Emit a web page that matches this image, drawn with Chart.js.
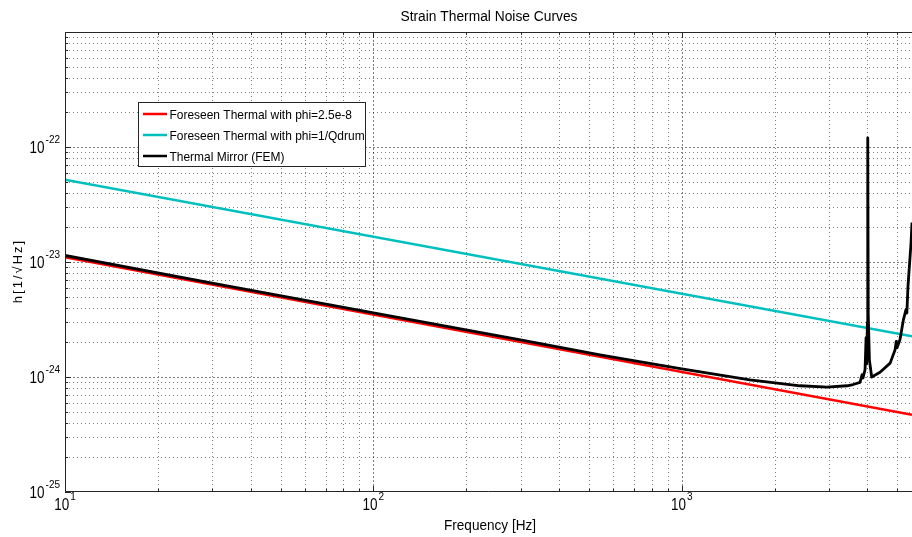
<!DOCTYPE html>
<html lang="en">
<head>
<meta charset="UTF-8">
<title>Strain Thermal Noise Curves</title>
<script src="https://cdn.jsdelivr.net/npm/chart.js"></script>
<style>
  html, body { margin: 0; padding: 0; background: #fff; }
  canvas { display: block; }
</style>
</head>
<body>
<canvas id="noiseChart" width="912" height="537"></canvas>
<script>
// axis ranges
const freqRange = [10, 5580];        // Hz
const strainRange = [1e-25, 1e-21];  // 1/sqrt(Hz)

// foreseen thermal noise, two loss angles
const foreseenFreq = [10, 5580];
const foreseenPhi = [1.10e-23, 4.7e-25];    // phi = 2.5e-8
const foreseenQdrum = [5.2e-23, 2.26e-24];  // phi = 1/Qdrum

// thermal mirror noise from the FEM model
const mirrorFreq = [10, 30, 100, 300, 543, 1000, 1663, 2420, 2960, 3436, 3593, 3785,
  3845, 3870, 3930, 3960, 3975, 4000, 4010, 4025, 4060, 4130, 4395, 4740, 4920,
  4960, 4990, 5100, 5235, 5335, 5370, 5415, 5540, 5580];
const mirrorFem = [1.14e-23, 6.55e-24, 3.61e-24, 2.10e-24, 1.56e-24, 1.175e-24, 9.44e-25,
  8.39e-25, 8.18e-25, 8.39e-25, 8.6e-25, 8.97e-25,
  1.05e-24, 9.8e-25, 1.16e-24, 2.2e-24, 1.3e-24, 3.0e-24, 1.2e-22, 3.5e-24, 1.4e-24,
  1.0e-24, 1.10e-24, 1.32e-24, 1.73e-24,
  2.04e-24, 1.8e-24, 2.11e-24, 3.16e-24, 3.85e-24, 3.6e-24, 6.14e-24, 1.47e-23, 2.2e-23];

// tick labels (10^n)
const xDecades = [10, 100, 1000];
const xExponents = ['1', '2', '3'];
const yDecades = [1e-25, 1e-24, 1e-23, 1e-22, 1e-21];
const yExponents = ['-25', '-24', '-23', '-22', ''];
const minorSteps = [1, 2, 3, 4, 5, 6, 7, 8, 9];

const legendLabels = [
  'Foreseen Thermal with phi=2.5e-8',
  'Foreseen Thermal with phi=1/Qdrum',
  'Thermal Mirror (FEM)'
];
const legendColors = ['#ff0000', '#00bfbf', '#000000'];

const FONT = '"Liberation Sans", Arial, Helvetica, sans-serif';

function toPoints(xs, ys) {
  return xs.map((f, i) => ({ x: f, y: ys[i] }));
}

function decadeTicks(decades, max) {
  const ticks = [];
  decades.forEach(d => minorSteps.forEach(m => {
    const v = d * m;
    if (v <= max * 1.0000001) ticks.push({ value: v, major: m === 1 });
  }));
  return ticks;
}

function drawPower(ctx, exp, x, y, anchor) {
  ctx.font = '16px ' + FONT;
  const baseW = Math.min(ctx.measureText('10').width, 15);
  ctx.font = '10px ' + FONT;
  const expW = ctx.measureText(exp).width;
  const total = baseW + 1 + expW;
  const left = anchor === 'right' ? x - total : x - total / 2;
  ctx.textAlign = 'left';
  ctx.textBaseline = 'alphabetic';
  ctx.font = '16px ' + FONT;
  ctx.fillText('10', left, y, baseW);
  ctx.font = '10px ' + FONT;
  ctx.fillText(exp, left + baseW + 1, y - 10);
}

const plotFrame = {
  id: 'plotFrame',
  beforeDraw(chart) {
    const { ctx, chartArea: a, scales: { x, y } } = chart;
    ctx.save();
    ctx.fillStyle = '#fff';
    ctx.fillRect(0, 0, chart.width, chart.height);
    ctx.lineWidth = 1;
    ctx.strokeStyle = 'rgba(0,0,0,0.5)';
    x.ticks.forEach(t => {
      const px = Math.round(x.getPixelForValue(t.value)) + 0.5;
      if (px < a.left + 1 || px > a.right - 1) return;
      ctx.setLineDash(t.major ? [2, 2] : [1, 3]);
      ctx.beginPath(); ctx.moveTo(px, a.top); ctx.lineTo(px, a.bottom); ctx.stroke();
    });
    y.ticks.forEach(t => {
      const py = Math.round(y.getPixelForValue(t.value)) + 0.5;
      if (py < a.top + 1 || py > a.bottom - 1) return;
      ctx.setLineDash(t.major ? [2, 2] : [1, 3]);
      ctx.beginPath(); ctx.moveTo(a.left, py); ctx.lineTo(a.right, py); ctx.stroke();
    });
    ctx.restore();
  },
  afterDraw(chart) {
    const { ctx, chartArea: a, scales: { x, y } } = chart;
    ctx.save();
    ctx.setLineDash([]);
    ctx.strokeStyle = '#262626';
    ctx.lineWidth = 1;

    // box: left, bottom, top
    ctx.beginPath();
    ctx.moveTo(a.right, a.top + 0.5); ctx.lineTo(a.left + 0.5, a.top + 0.5);
    ctx.lineTo(a.left + 0.5, a.bottom - 0.5); ctx.lineTo(a.right, a.bottom - 0.5);
    ctx.stroke();

    // tick marks pointing inward
    ctx.beginPath();
    x.ticks.forEach(t => {
      const px = Math.round(x.getPixelForValue(t.value)) + 0.5;
      const len = t.major ? 6 : 3;
      ctx.moveTo(px, a.bottom); ctx.lineTo(px, a.bottom - len);
      ctx.moveTo(px, a.top); ctx.lineTo(px, a.top + len);
    });
    y.ticks.forEach(t => {
      const py = Math.round(y.getPixelForValue(t.value)) + 0.5;
      const len = t.major ? 6 : 3;
      ctx.moveTo(a.left, py); ctx.lineTo(a.left + len, py);
    });
    ctx.stroke();

    // tick labels
    ctx.fillStyle = '#000';
    xDecades.forEach((d, i) => drawPower(ctx, xExponents[i], x.getPixelForValue(d), a.bottom + 18, 'center'));
    yDecades.forEach((d, i) => {
      if (!yExponents[i]) return;
      drawPower(ctx, yExponents[i], a.left - 5, y.getPixelForValue(d) + 6, 'right');
    });

    // title and axis titles
    ctx.textAlign = 'center';
    ctx.textBaseline = 'alphabetic';
    ctx.font = '14px ' + FONT;
    ctx.fillText('Strain Thermal Noise Curves', 489, 21, 177);
    ctx.fillText('Frequency [Hz]', 490, 530, 92);
    ctx.save();
    ctx.translate(22, 271);
    ctx.rotate(-Math.PI / 2);
    ctx.font = '13px ' + FONT;
    ctx.letterSpacing = '2px';
    ctx.fillText('h[1/\u221AHz]', 0, 0);
    ctx.restore();

    // legend
    const lx = 138.5, ly = 102.5, lw = 227, lh = 64;
    ctx.fillStyle = '#fff';
    ctx.fillRect(lx, ly, lw, lh);
    ctx.strokeStyle = '#262626';
    ctx.strokeRect(lx, ly, lw, lh);
    ctx.beginPath();
    ctx.rect(lx, ly, lw - 1, lh);
    ctx.clip();
    legendLabels.forEach((label, i) => {
      const ry = 114 + i * 21;
      ctx.strokeStyle = legendColors[i];
      ctx.lineWidth = 2.5;
      ctx.beginPath(); ctx.moveTo(143, ry); ctx.lineTo(167, ry); ctx.stroke();
      ctx.save();
      ctx.fillStyle = '#000';
      ctx.font = '13px ' + FONT;
      ctx.textAlign = 'left';
      ctx.textBaseline = 'middle';
      ctx.translate(169.5, ry + 1);
      ctx.scale(0.92, 1);
      ctx.fillText(label, 0, 0);
      ctx.restore();
    });
    ctx.restore();
  }
};

const ctx = document.getElementById('noiseChart').getContext('2d');
new Chart(ctx, {
  type: 'line',
  data: {
    datasets: [
      { label: legendLabels[2], data: toPoints(mirrorFreq, mirrorFem), borderColor: legendColors[2], borderWidth: 2.8, order: 0 },
      { label: legendLabels[1], data: toPoints(foreseenFreq, foreseenQdrum), borderColor: legendColors[1], order: 1 },
      { label: legendLabels[0], data: toPoints(foreseenFreq, foreseenPhi), borderColor: legendColors[0], order: 2 }
    ]
  },
  options: {
    responsive: false,
    animation: false,
    devicePixelRatio: 1,
    layout: { padding: { top: 32, right: 0, left: 0, bottom: 0 } },
    elements: {
      line: { borderWidth: 2.5, tension: 0, borderJoinStyle: 'round', fill: false },
      point: { radius: 0, hoverRadius: 0 }
    },
    plugins: {
      legend: { display: false },
      title: { display: false },
      tooltip: { enabled: false }
    },
    scales: {
      x: {
        type: 'logarithmic',
        min: freqRange[0],
        max: freqRange[1],
        afterBuildTicks: s => { s.ticks = decadeTicks(xDecades, freqRange[1]); },
        afterFit: s => { s.height = 45; },
        ticks: { display: false, autoSkip: false },
        grid: { display: false },
        border: { display: false }
      },
      y: {
        type: 'logarithmic',
        min: strainRange[0],
        max: strainRange[1],
        afterBuildTicks: s => { s.ticks = decadeTicks(yDecades, strainRange[1]); },
        afterFit: s => { s.width = 65; },
        ticks: { display: false, autoSkip: false },
        grid: { display: false },
        border: { display: false }
      }
    }
  },
  plugins: [plotFrame]
});
</script>
</body>
</html>
